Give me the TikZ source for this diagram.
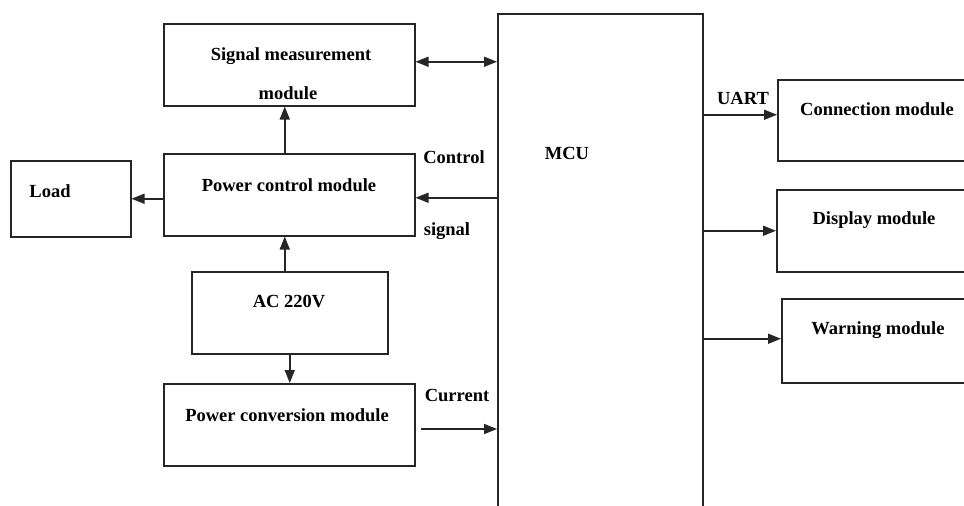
\documentclass[tikz,border=0pt]{standalone}
\usepackage{fontspec}
\setmainfont{Liberation Serif}
\usetikzlibrary{arrows.meta}
\begin{document}
\begin{tikzpicture}[x=1pt,y=-1pt,
  box/.style={draw=black!85,line width=1.5pt,rectangle,inner sep=0pt,anchor=north west},
  txt/.style={font=\fontsize{18.5}{20}\selectfont\bfseries,inner sep=0pt,anchor=center},
  conn/.style={line width=1.5pt,draw=black!85,-{Triangle[length=13pt,width=10pt]}},
  dconn/.style={line width=1.5pt,draw=black!85,{Triangle[length=13pt,width=10pt]}-{Triangle[length=13pt,width=10pt]}}]
\clip (0,0) rectangle (964,506);
\fill[white] (0,0) rectangle (964,506);
% boxes
\node[box,minimum width=251pt,minimum height=82pt] (sig) at (163,23) {};
\node[box,minimum width=251pt,minimum height=82pt] (pcm) at (163,153) {};
\node[box,minimum width=120pt,minimum height=76pt] (load) at (10,160) {};
\node[box,minimum width=196pt,minimum height=82pt] (ac) at (191,271) {};
\node[box,minimum width=251pt,minimum height=82pt] (pconv) at (163,383) {};
\node[box,minimum width=205pt,minimum height=520pt] (mcu) at (497,13) {};
\node[box,minimum width=210pt,minimum height=81pt] (connm) at (777,79) {};
\node[box,minimum width=210pt,minimum height=82pt] (disp) at (776,189) {};
\node[box,minimum width=210pt,minimum height=84pt] (warn) at (781,298) {};
% texts
\node[txt] (tsig1) at (291,56) {Signal measurement};
\node[txt] (tsig2) at (288,93) {module};
\node[txt] (tpcm) at (289,185) {Power control module};
\node[txt] (tload) at (50,191) {Load};
\node[txt] (tac) at (289,301) {AC 220V};
\node[txt] (tpconv) at (287,415) {Power conversion module};
\node[txt] (tmcu) at (567,153) {MCU};
\node[txt] (tconn) at (877,109) {Connection module};
\node[txt] (tdisp) at (874,220) {Display module};
\node[txt] (twarn) at (878,330) {Warning module};
\node[txt] (lctrl) at (454,157) {Control};
\node[txt] (lsig) at (447,231) {signal};
\node[txt] (lcur) at (457,395) {Current};
\node[txt] (luart) at (743,98) {UART};
% connectors
\draw[dconn] ([yshift=3pt]sig.east) -- ([yshift=3pt]sig.east -| mcu.west);
\draw[conn] ([yshift=-3pt]pcm.east -| mcu.west) -- ([yshift=-3pt]pcm.east);
\draw[conn] (pcm.west |- load.east) -- (load.east);
\draw[conn] ([xshift=-4.5pt]pcm.north) -- ([xshift=-4.5pt]pcm.north |- sig.south);
\draw[conn] ([xshift=-5pt]ac.north) -- ([xshift=-5pt]ac.north |- pcm.south);
\draw[conn] (ac.south) -- (ac.south |- pconv.north);
\coordinate (curstart) at (421,429);
\draw[conn] (curstart) -- (curstart -| mcu.west);
\draw[conn] ([yshift=5.5pt]connm.west -| mcu.east) -- ([yshift=5.5pt]connm.west);
\draw[conn] (disp.west -| mcu.east) -- (disp.west);
\draw[conn] ([yshift=2pt]warn.west -| mcu.east) -- ([yshift=2pt]warn.west);
\end{tikzpicture}
\end{document}
